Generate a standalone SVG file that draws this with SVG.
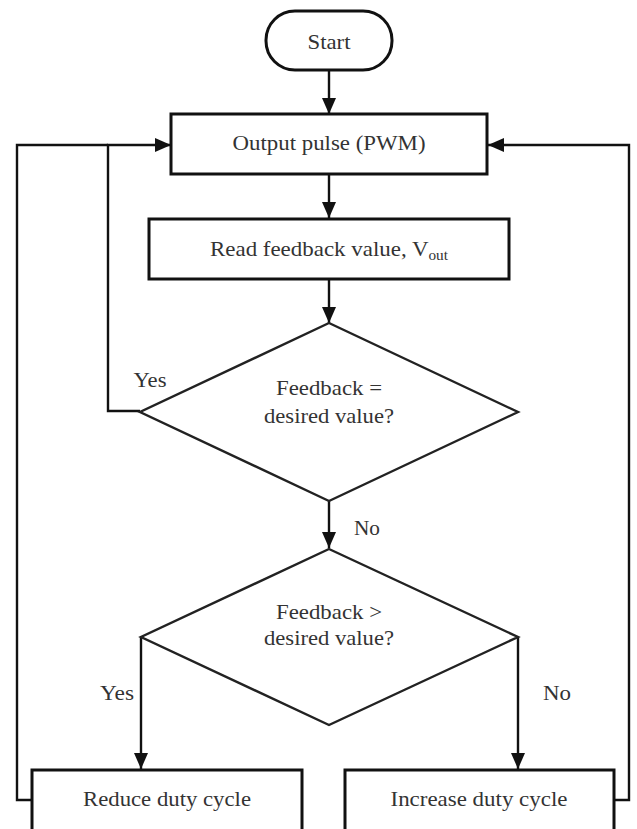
<svg xmlns="http://www.w3.org/2000/svg" width="637" height="829" viewBox="0 0 637 829">
<style>
.box{fill:#fff;stroke:#111;stroke-width:3}
.dia{fill:#fff;stroke:#222;stroke-width:2.4}
.ln{fill:none;stroke:#111;stroke-width:2.4}
.t{font-family:'Liberation Serif','Times New Roman','DejaVu Serif',serif;font-size:21px;fill:#333;text-anchor:middle}
</style>
<defs>
<marker id="ah" viewBox="0 0 16 14" refX="16" refY="7" markerWidth="16" markerHeight="14" markerUnits="userSpaceOnUse" orient="auto">
<path d="M0,0 L16,7 L0,14 Z" fill="#111"/>
</marker>
</defs>
<rect width="637" height="829" fill="#fff"/>
<g id="connectors">
<line class="ln" x1="329" y1="70" x2="329" y2="114" marker-end="url(#ah)"/>
<line class="ln" x1="329" y1="174" x2="329" y2="218" marker-end="url(#ah)"/>
<line class="ln" x1="329" y1="279" x2="329" y2="323" marker-end="url(#ah)"/>
<line class="ln" x1="329" y1="501" x2="329" y2="548" marker-end="url(#ah)"/>
<polyline class="ln" points="140,411 108,411 108,145 171,145" marker-end="url(#ah)"/>
<polyline class="ln" points="141,637 141,769" marker-end="url(#ah)"/>
<polyline class="ln" points="518,637 518,769" marker-end="url(#ah)"/>
<polyline class="ln" points="32,800 17,800 17,145 108,145"/>
<polyline class="ln" points="614,800 629,800 629,145 488,145" marker-end="url(#ah)"/>
<text class="t" x="150" y="387" textLength="33" lengthAdjust="spacingAndGlyphs">Yes</text>
<text class="t" x="367" y="535" textLength="26" lengthAdjust="spacingAndGlyphs">No</text>
<text class="t" x="117" y="700" textLength="34" lengthAdjust="spacingAndGlyphs">Yes</text>
<text class="t" x="557" y="700" textLength="28" lengthAdjust="spacingAndGlyphs">No</text>
</g>
<g id="start">
<rect class="box" x="266" y="11" width="126" height="59" rx="29" ry="29" stroke-width="2.5"/>
<text class="t" x="329" y="49" textLength="43" lengthAdjust="spacingAndGlyphs">Start</text>
</g>
<g id="output">
<rect class="box" x="171" y="114" width="316" height="60"/>
<text class="t" x="329" y="150" textLength="193" lengthAdjust="spacingAndGlyphs">Output pulse (PWM)</text>
</g>
<g id="read">
<rect class="box" x="149" y="219" width="360" height="60"/>
<text class="t" x="329" y="256" textLength="238" lengthAdjust="spacingAndGlyphs">Read feedback value, V<tspan font-size="14" dy="4">out</tspan></text>
</g>
<g id="decision1">
<polygon class="dia" points="329,323 518,412 329,501 140,412"/>
<text class="t" x="329" y="395" textLength="106" lengthAdjust="spacingAndGlyphs">Feedback =</text>
<text class="t" x="329" y="423" textLength="130" lengthAdjust="spacingAndGlyphs">desired value?</text>
</g>
<g id="decision2">
<polygon class="dia" points="329,549 518,637 329,725 141,637"/>
<text class="t" x="329" y="619" textLength="106" lengthAdjust="spacingAndGlyphs">Feedback &gt;</text>
<text class="t" x="329" y="645" textLength="130" lengthAdjust="spacingAndGlyphs">desired value?</text>
</g>
<g id="reduce">
<rect class="box" x="32" y="770" width="270" height="70"/>
<text class="t" x="167" y="806" textLength="168" lengthAdjust="spacingAndGlyphs">Reduce duty cycle</text>
</g>
<g id="increase">
<rect class="box" x="345" y="770" width="269" height="70"/>
<text class="t" x="479" y="806" textLength="177" lengthAdjust="spacingAndGlyphs">Increase duty cycle</text>
</g>
</svg>
